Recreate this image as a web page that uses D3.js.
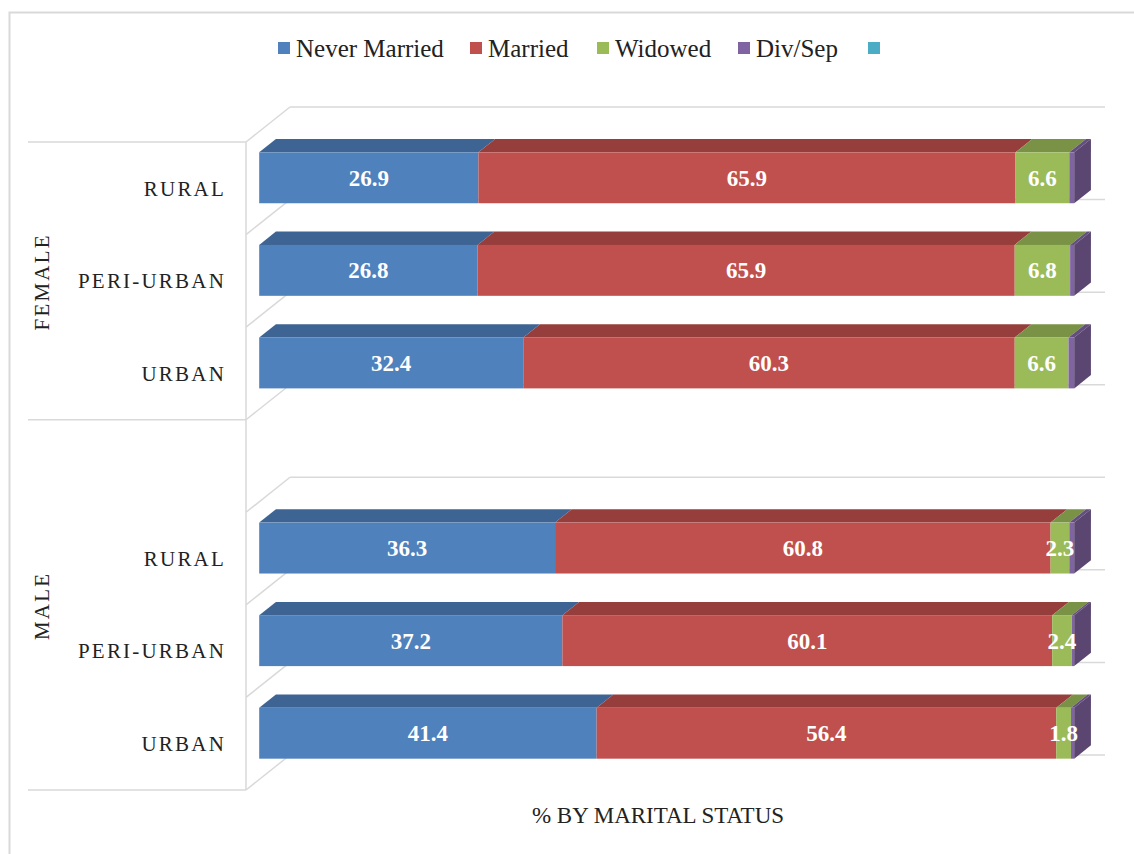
<script src="https://d3js.org/d3.v7.min.js"></script>
<style>
body { margin: 0; background: #fff; }
text { font-family: "Liberation Serif", serif; }
</style>
<body>
<script>
// rows from top to bottom, one empty slot between the groups
var categories    = ["RURAL", "PERI-URBAN", "URBAN", "", "RURAL", "PERI-URBAN", "URBAN"];
var categoryGroup = ["FEMALE", "FEMALE", "FEMALE", "MALE", "MALE", "MALE", "MALE"];
var groups        = ["FEMALE", "MALE"];

var seriesNames  = ["Never Married", "Married", "Widowed", "Div/Sep", ""];
var seriesColors = ["#4F81BD", "#C0504D", "#9BBB59", "#8064A2", "#4BACC6"];

var neverMarried = [26.9, 26.8, 32.4, null, 36.3, 37.2, 41.4];
var married      = [65.9, 65.9, 60.3, null, 60.8, 60.1, 56.4];
var widowed      = [6.6, 6.8, 6.6, null, 2.3, 2.4, 1.8];
var divSep       = [0.6, 0.5, 0.7, null, 0.6, 0.3, 0.4];
var other        = [0, 0, 0, null, 0, 0, 0];

var values = [neverMarried, married, widowed, divSep, other];
var showLabel = [true, true, true, false, false];

var W = 1134, H = 854;
var svg = d3.select("body").append("svg").attr("width", W).attr("height", H);

// chart border (right and bottom run off the picture)
svg.append("rect").attr("x", 9.5).attr("y", 12.5).attr("width", 1200).attr("height", 900)
  .attr("fill", "none").attr("stroke", "#d9d9d9").attr("stroke-width", 2);

// 3d geometry
var frontX = 246, depthX = 44, depthY = -35;
var barD0 = 0.30, barD1 = 0.68;

var y = d3.scaleBand().domain(d3.range(categories.length)).range([142, 790]).padding(0);
var x = d3.scaleLinear().domain([0, 100]).range([0, 815]);

var grid = "#d9d9d9";
var bounds = d3.range(categories.length + 1).map(function(i) { return 142 + i * y.step(); });

// back wall lines and side-wall diagonals
bounds.forEach(function(b) {
  svg.append("line").attr("x1", frontX + depthX).attr("x2", frontX + depthX + x(100))
    .attr("y1", b + depthY).attr("y2", b + depthY).attr("stroke", grid).attr("stroke-width", 1.5);
  svg.append("line").attr("x1", frontX).attr("x2", frontX + depthX)
    .attr("y1", b).attr("y2", b + depthY).attr("stroke", grid).attr("stroke-width", 1.5);
});
svg.append("line").attr("x1", frontX).attr("x2", frontX).attr("y1", 142).attr("y2", 790)
  .attr("stroke", grid).attr("stroke-width", 1.5);

// group separators and labels
var groupBounds = [142, 142 + 3 * y.step(), 790];
groupBounds.forEach(function(b) {
  svg.append("line").attr("x1", 28).attr("x2", frontX).attr("y1", b).attr("y2", b)
    .attr("stroke", grid).attr("stroke-width", 1.5);
});
groups.forEach(function(g, gi) {
  var cy = (groupBounds[gi] + groupBounds[gi + 1]) / 2;
  svg.append("text").attr("transform", "translate(49," + (cy + 1) + ") rotate(-90)")
    .attr("text-anchor", "middle").attr("font-size", 21).attr("letter-spacing", 2.2)
    .attr("fill", "#222").text(g);
});

// category labels
svg.selectAll(".cat").data(categories).enter().append("text")
  .attr("class", "cat")
  .attr("x", 226).attr("y", function(d, i) { return y(i) + y.bandwidth() / 2; })
  .attr("dy", "0.35em").attr("text-anchor", "end")
  .attr("font-size", 21).attr("letter-spacing", 2.2).attr("fill", "#222")
  .text(function(d) { return d; });

// bars
var ox0 = depthX * barD0, oy0 = depthY * barD0;
var bdx = depthX * (barD1 - barD0), bdy = depthY * (barD1 - barD0);
var barH = y.bandwidth() * 0.55;

categories.forEach(function(c, i) {
  if (neverMarried[i] == null) return;
  var top = y(i) + (y.bandwidth() - barH) / 2 + oy0;
  var bot = top + barH;
  var g = svg.append("g");
  var acc = 0, lastEnd = 0, lastColor = null;
  var segs = values.map(function(s, k) {
    var x0 = frontX + ox0 + x(acc);
    acc += s[i];
    var x1 = frontX + ox0 + x(acc);
    return { k: k, v: s[i], x0: x0, x1: x1 };
  });
  segs.forEach(function(s) {
    if (s.v <= 0) return;
    var col = seriesColors[s.k];
    g.append("path")
      .attr("d", "M" + s.x0 + "," + top + "L" + (s.x0 + bdx) + "," + (top + bdy) +
                 "L" + (s.x1 + bdx) + "," + (top + bdy) + "L" + s.x1 + "," + top + "Z")
      .attr("fill", d3.color(col).darker(0.7));
    g.append("rect").attr("x", s.x0).attr("y", top).attr("width", s.x1 - s.x0).attr("height", barH)
      .attr("fill", col);
    lastEnd = s.x1; lastColor = col;
  });
  g.append("path")
    .attr("d", "M" + lastEnd + "," + top + "L" + (lastEnd + bdx) + "," + (top + bdy) +
               "L" + (lastEnd + bdx) + "," + (bot + bdy) + "L" + lastEnd + "," + bot + "Z")
    .attr("fill", d3.color(lastColor).darker(1));
  segs.forEach(function(s) {
    if (!showLabel[s.k] || s.v <= 0) return;
    g.append("text").attr("x", (s.x0 + s.x1) / 2).attr("y", top + barH / 2)
      .attr("dy", "0.35em").attr("text-anchor", "middle")
      .attr("font-size", 23).attr("font-weight", "bold").attr("fill", "#fff")
      .text(s.v.toFixed(1));
  });
});

// legend
var legendX = [278, 470, 597, 738, 868];
var legend = svg.selectAll(".leg").data(seriesNames).enter().append("g")
  .attr("transform", function(d, i) { return "translate(" + legendX[i] + ",42)"; });
legend.append("rect").attr("width", 12).attr("height", 12)
  .attr("fill", function(d, i) { return seriesColors[i]; });
legend.append("text").attr("x", 18).attr("y", 6).attr("dy", "0.35em")
  .attr("font-size", 25).attr("fill", "#222").text(function(d) { return d; });

// axis title
svg.append("text").attr("x", 658).attr("y", 823).attr("text-anchor", "middle")
  .attr("font-size", 23).attr("fill", "#222").text("% BY MARITAL STATUS");
</script>
</body>
